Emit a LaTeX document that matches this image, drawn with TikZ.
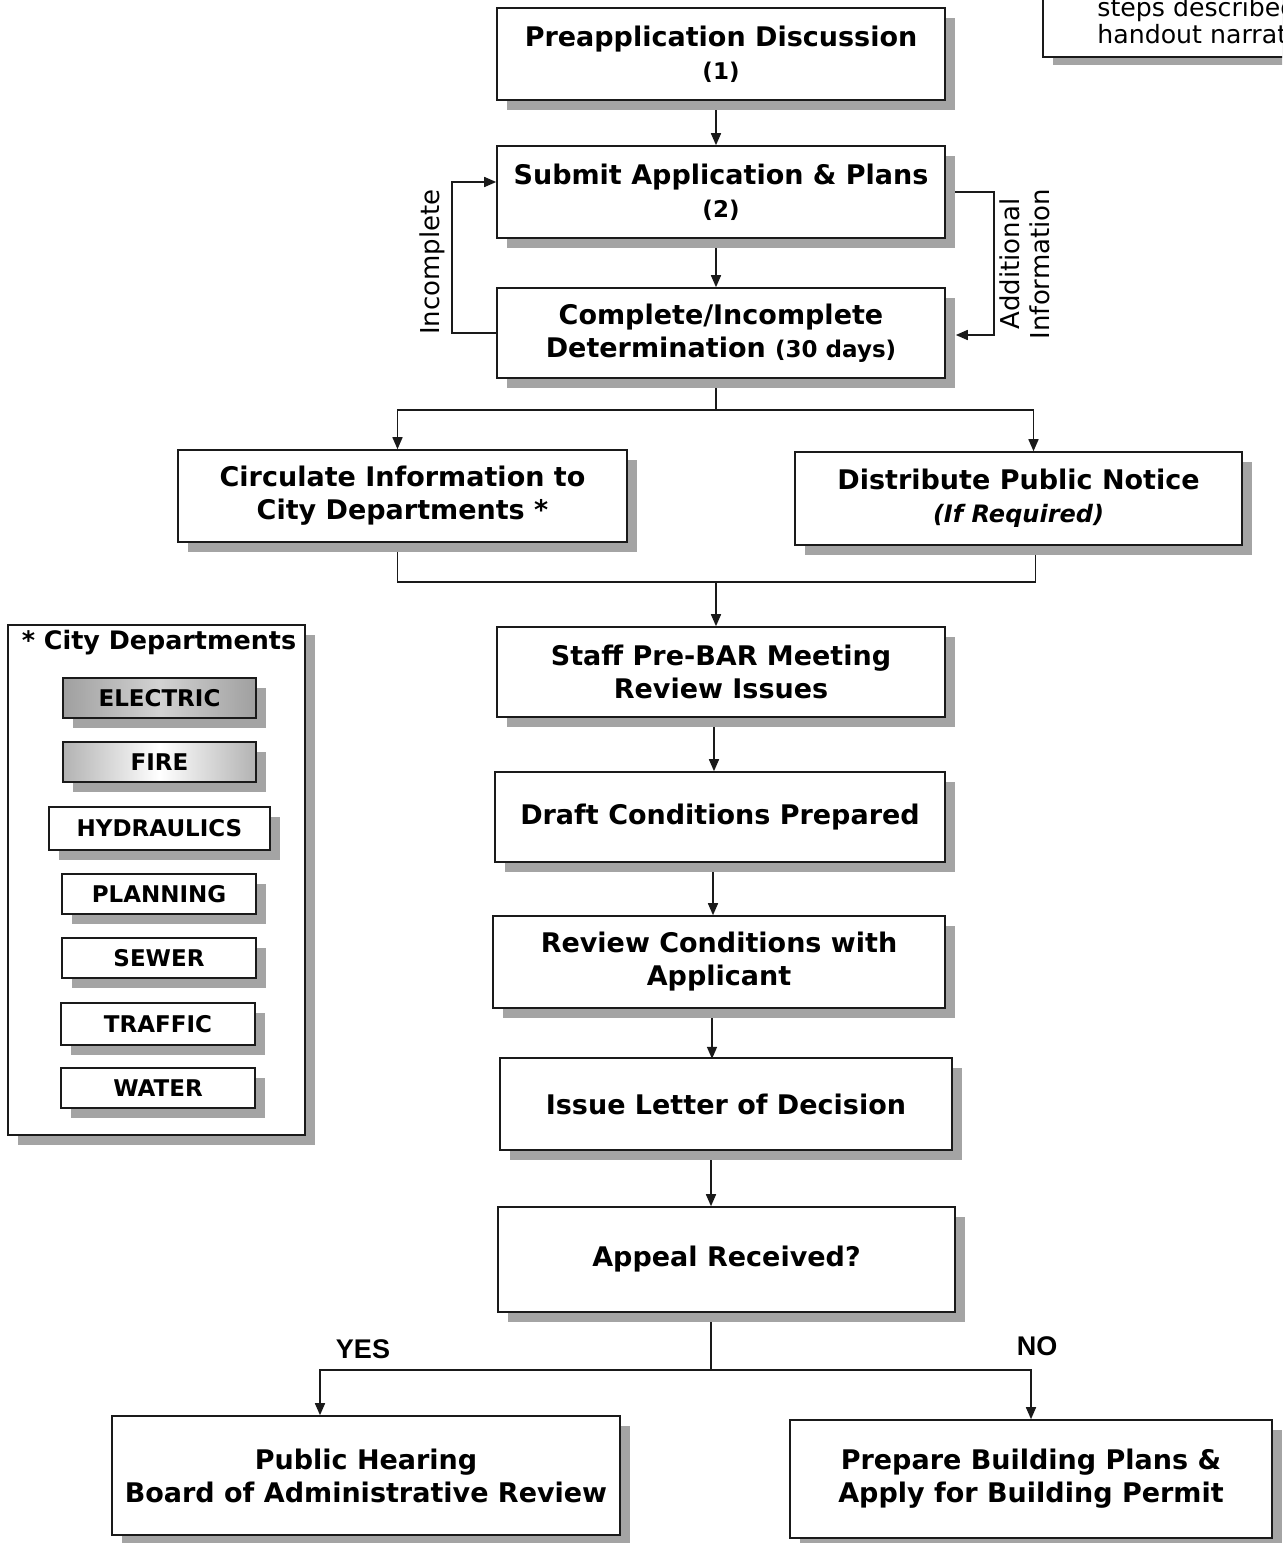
\documentclass[tikz,border=0pt]{standalone}
\usepackage{fontspec}
\setmainfont{DejaVu Sans}
\newfontfamily\yesnofont{Liberation Sans}
\usepackage{tikz}
\usetikzlibrary{arrows.meta,backgrounds,calc,positioning,shadows}
\definecolor{ChartShadow}{HTML}{A4A4A4}
\definecolor{ChartLine}{HTML}{1A1A1A}
\tikzset{
  flowarrow/.style={-{Triangle[length=6pt,width=5pt]},line width=0.8pt,draw=ChartLine},
  flowline/.style={line width=0.8pt,draw=ChartLine},
  stepbox/.style={draw=ChartLine,line width=0.8pt,fill=white,align=center,inner sep=2pt,
    font=\fontsize{13.5}{16.5}\selectfont\bfseries,
    drop shadow={shadow xshift=5pt,shadow yshift=-5pt,fill=ChartShadow,opacity=1}},
  deptbox/.style={draw=ChartLine,line width=0.9pt,fill=white,inner sep=1pt,
    minimum width=96.5pt,minimum height=20pt,font=\fontsize{11.5}{13}\selectfont\bfseries,
    drop shadow={shadow xshift=5pt,shadow yshift=-5pt,fill=ChartShadow,opacity=1}},
  sidelabel/.style={align=center,font=\fontsize{13}{15}\selectfont,inner sep=0pt},
  branchlabel/.style={font=\yesnofont\fontsize{13.5}{15}\selectfont\bfseries,inner sep=0pt},
  smallnum/.style={font=\fontsize{11.5}{13}\selectfont\bfseries}
}

\begin{document}
\begin{tikzpicture}[x=0.5pt,y=-0.5pt]
  \useasboundingbox (0,0) rectangle (1282,1543);
  \clip (0,0) rectangle (1282,1543);

  % note box cut by the page edge
  \node[draw=ChartLine,line width=0.8pt,fill=white,anchor=south west,minimum width=179pt,minimum height=59pt,
    drop shadow={shadow xshift=5pt,shadow yshift=-4pt,fill=ChartShadow,opacity=1}] (note) at (1042,58) {};
  \node[align=left,anchor=south west,inner sep=0pt,font=\fontsize{12.6}{13.5}\selectfont] (notetxt) at (1097,44)
    {steps described\\handout narrative};

  % main flow
  \node[stepbox,minimum width=224pt,minimum height=46pt] (pre) at (721,54)
    {Preapplication Discussion\\{\fontsize{11.5}{13}\selectfont (1)}};
  \node[stepbox,minimum width=224pt,minimum height=46pt] (sub) at (721,192)
    {Submit Application \& Plans\\{\fontsize{11.5}{13}\selectfont (2)}};
  \node[stepbox,minimum width=224pt,minimum height=45pt] (comp) at (721,333)
    {Complete/Incomplete\\Determination {\fontsize{11.5}{13}\selectfont (30 days)}};
  \node[stepbox,minimum width=224.5pt,minimum height=46pt] (circ) at (402.5,496)
    {Circulate Information to\\City Departments *};
  \node[stepbox,minimum width=223.5pt,minimum height=46.5pt] (dist) at (1018.5,498.5)
    {Distribute Public Notice\\{\fontsize{12}{13}\selectfont\itshape (If Required)}};
  \node[stepbox,minimum width=224pt,minimum height=45pt] (staff) at (721,672)
    {Staff Pre-BAR Meeting\\Review Issues};
  \node[stepbox,minimum width=225pt,minimum height=45pt] (draft) at (720,817)
    {Draft Conditions Prepared};
  \node[stepbox,minimum width=226pt,minimum height=46pt] (review) at (719,962)
    {Review Conditions with\\Applicant};
  \node[stepbox,minimum width=226pt,minimum height=46pt] (issue) at (726,1104)
    {Issue Letter of Decision};
  \node[stepbox,minimum width=228.5pt,minimum height=52.5pt] (appeal) at (726.5,1259.5)
    {Appeal Received?};
  \node[stepbox,minimum width=254pt,minimum height=59.5pt] (hear) at (366,1475.5)
    {Public Hearing\\Board of Administrative Review};
  \node[stepbox,minimum width=241pt,minimum height=59pt] (prep) at (1031,1479)
    {Prepare Building Plans \&\\Apply for Building Permit};

  % legend of departments
  \node[draw=ChartLine,line width=0.8pt,fill=white,minimum width=148.5pt,minimum height=255pt,
    drop shadow={shadow xshift=5pt,shadow yshift=-5pt,fill=ChartShadow,opacity=1}] (legend) at (156.5,880) {};
  \node[font=\fontsize{12.7}{14}\selectfont\bfseries,inner sep=0pt] (legendtitle) at (159,643) {* City Departments};
  \node[deptbox,left color=gray!75,right color=gray!75,middle color=gray!35,line width=1.3pt] (electric) at (159.5,698) {ELECTRIC};
  \node[deptbox,left color=gray!60,right color=gray!60,middle color=white] (fire) at (159.5,762) {FIRE};
  \node[deptbox,minimum width=110.5pt,minimum height=21.5pt] (hydraulics) at (159.5,828.5) {HYDRAULICS};
  \node[deptbox,minimum width=97pt] (planning) at (159,894) {PLANNING};
  \node[deptbox,minimum width=97pt] (sewer) at (159,958) {SEWER};
  \node[deptbox,minimum width=97pt,minimum height=21pt] (traffic) at (158,1024) {TRAFFIC};
  \node[deptbox,minimum width=97pt] (water) at (158,1088) {WATER};

  % side and branch labels
  \node[sidelabel,rotate=90] (inclabel) at (432,262) {Incomplete};
  \node[sidelabel,rotate=90] (addlabel) at (1025,264) {Additional\\Information};
  \node[branchlabel] (yes) at (363,1349) {YES};
  \node[branchlabel] (no) at (1037,1346) {NO};

  \coordinate (split1) at (716,410);
  \coordinate (merge) at (716,582);
  \coordinate (split2) at (711,1370);

  \begin{scope}[on background layer]
    \draw[flowarrow] (716,100 -| pre.south) ++(-5,0) -- ($(sub.north)+(-5,0)$);
    \draw[flowarrow] ($(sub.south)+(-5,0)$) -- ($(comp.north)+(-5,0)$);
    \draw[flowarrow] (comp.west) -- ++(-44,0) |- ($(sub.west)+(0,-10)$);
    \draw[flowarrow] (sub.east) -- ++(48,0) |- ($(comp.east)+(10,2)$);
    \draw[flowline] (split1 |- comp.south) -- (split1);
    \draw[flowarrow] (split1) -| ($(circ.north)+(-5,0)$);
    \draw[flowarrow] (split1) -| ($(dist.north)+(15,0)$);
    \draw[flowline] ($(circ.south)+(-5,0)$) |- (merge) -| ($(dist.south)+(17,0)$);
    \draw[flowarrow] (merge) -- (merge |- staff.north);
    \draw[flowarrow] ($(staff.south)+(-7,0)$) -- ($(draft.north)+(-6,0)$);
    \draw[flowarrow] ($(draft.south)+(-7,0)$) -- ($(review.north)+(-6,0)$);
    \draw[flowarrow] ($(review.south)+(-7,0)$) -- ($(review.south)+(-7,50)$) coordinate (issuein);
    \draw[flowarrow] ($(issue.south)+(-15,0)$) -- (issue.south -| split2) -- (split2 |- appeal.north);
    \draw[flowline] (split2 |- appeal.south) -- (split2);
    \draw[flowarrow] (split2) -| ($(hear.north)+(-46,0)$);
    \draw[flowarrow] (split2) -| (prep.north);
  \end{scope}
\end{tikzpicture}
\end{document}
